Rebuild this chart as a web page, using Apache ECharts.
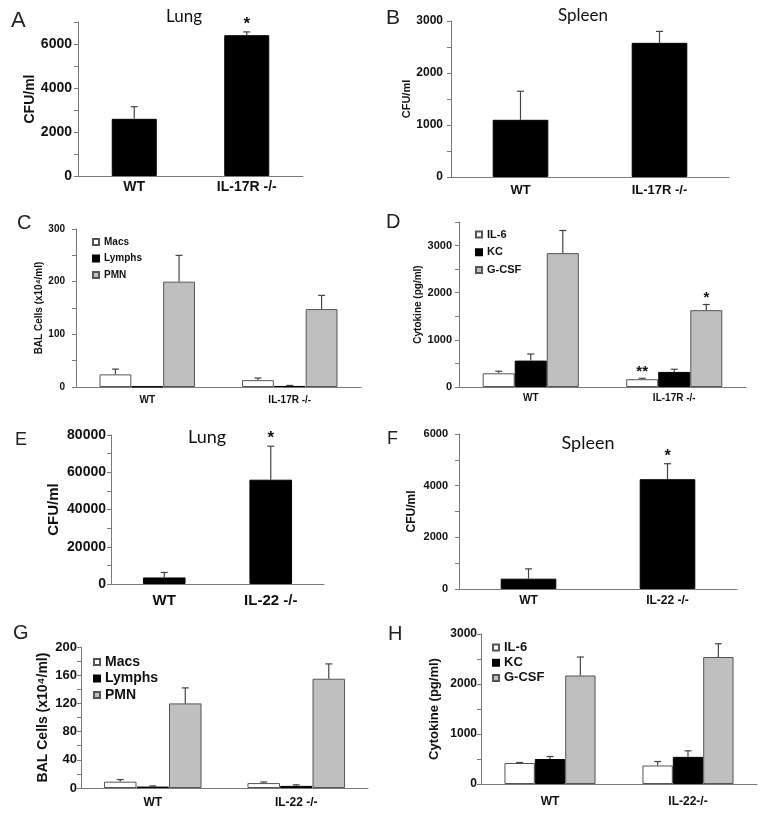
<!DOCTYPE html>
<html><head><meta charset="utf-8">
<script src="https://cdn.jsdelivr.net/npm/echarts@6/dist/echarts.min.js"></script>
<style>html,body{margin:0;padding:0;background:#fff}#c{width:764px;height:816px}</style>
</head><body><div id="c"></div><script>
// ---------- DATA ----------
const catsIL17 = ['WT', 'IL-17R -/-'];
const catsIL22 = ['WT', 'IL-22 -/-'];
const catsIL22h = ['WT', 'IL-22-/-'];

// A: Lung CFU (IL-17R)
const lungA = [2600, 6400];
const lungAErr = [550, 150];
const lungASig = ['', '*'];
// B: Spleen CFU (IL-17R)
const spleenB = [1100, 2580];
const spleenBErr = [550, 220];
const spleenBSig = ['', ''];
// C: BAL cells (IL-17R)
const macsC = [24, 13];
const macsCErr = [10, 4];
const lymphsC = [1, 2];
const lymphsCErr = [0, 1];
const pmnC = [200, 148];
const pmnCErr = [50, 26];
// D: Cytokines (IL-17R)
const il6D = [290, 165];
const il6DErr = [45, 20];
const il6DSig = ['', '**'];
const kcD = [560, 320];
const kcDErr = [140, 57];
const gcsfD = [2840, 1630];
const gcsfDErr = [480, 120];
const gcsfDSig = ['', '*'];
// E: Lung CFU (IL-22)
const lungE = [3500, 56000];
const lungEErr = [2700, 18000];
const lungESig = ['', '*'];
// F: Spleen CFU (IL-22)
const spleenF = [400, 4250];
const spleenFErr = [380, 600];
const spleenFSig = ['', '*'];
// G: BAL cells (IL-22)
const macsG = [9, 7];
const macsGErr = [3, 1.5];
const lymphsG = [2, 3];
const lymphsGErr = [1, 1.5];
const pmnG = [120, 155];
const pmnGErr = [22, 21];
// H: Cytokines (IL-22)
const il6H = [420, 370];
const il6HErr = [10, 80];
const kcH = [500, 543];
const kcHErr = [50, 120];
const gcsfH = [2170, 2540];
const gcsfHErr = [370, 265];

// ---------- STYLE ----------
const WHITE = {color: '#ffffff', borderColor: '#555', borderWidth: 1};
const BLACK = {color: '#000000', borderColor: '#000', borderWidth: 1};
const GRAY = {color: '#bfbfbf', borderColor: '#555', borderWidth: 1};
const AX = '#7a7a7a';

const chart = echarts.init(document.getElementById('c'));
const option = {
  animation: false,
  backgroundColor: '#fff',
  grid: [], xAxis: [], yAxis: [], series: [], legend: [], graphic: []
};

function panel(p) {
  const i = option.grid.length;
  option.grid.push(Object.assign({containLabel: false}, p.grid));
  option.xAxis.push({
    type: 'category', gridIndex: i, data: p.cats,
    axisLine: {lineStyle: {color: AX, width: 1}},
    axisTick: {length: 5, lineStyle: {color: AX}},
    axisLabel: {fontFamily: 'Liberation Sans, Arial', fontWeight: 'bold', fontSize: p.xFont, color: '#111', margin: p.xMargin}
  });
  option.yAxis.push({
    type: 'value', gridIndex: i, min: 0, max: p.max, interval: p.interval,
    name: p.yName, nameLocation: 'middle', nameRotate: 90, nameGap: p.nameGap,
    nameTextStyle: {fontFamily: 'Liberation Sans, Arial', fontWeight: 'bold', fontSize: p.nameFont, color: '#111'},
    splitLine: {show: false},
    axisLine: {show: true, lineStyle: {color: AX, width: 1}},
    axisTick: {show: true, length: 4, lineStyle: {color: AX}},
    axisLabel: {fontFamily: 'Liberation Sans, Arial', fontWeight: 'bold', fontSize: p.yFont, color: '#111', margin: p.yMargin,
      formatter: v => (v % p.step === 0 ? String(v) : '')}
  });
  const n = p.series.length;
  const frac = p.frac;
  p.series.forEach((s, idx) => {
    option.series.push({
      type: 'bar', name: s.name, xAxisIndex: i, yAxisIndex: i, data: s.data,
      barGap: '0%', barCategoryGap: ((1 - frac) * 100) + '%',
      itemStyle: s.style, z: 2
    });
    const sig = s.sig || [];
    option.series.push({
      type: 'custom', name: 'err' + i + '_' + idx, xAxisIndex: i, yAxisIndex: i, z: 3,
      silent: true, clip: false,
      data: s.data.map((v, k) => [k, v, s.err[k]]),
      renderItem: function (params, api) {
        const k = api.value(0), v = api.value(1), e = api.value(2);
        const p0 = api.coord([k, v]);
        const p1 = api.coord([k, v + e]);
        const band = api.size([1, 0])[0];
        const bw = band * frac / n;
        const x = p0[0] + (idx - (n - 1) / 2) * bw;
        const children = [];
        if (e > 0) {
          children.push({type: 'line', shape: {x1: x, y1: p0[1], x2: x, y2: p1[1]}, style: {stroke: '#444', lineWidth: 1.2}});
          children.push({type: 'line', shape: {x1: x - 3.5, y1: p1[1], x2: x + 3.5, y2: p1[1]}, style: {stroke: '#444', lineWidth: 1.2}});
        }
        const t = sig[params.dataIndex];
        if (t) {
          children.push({type: 'text', style: {text: t, x: x, y: p1[1] + 1, align: 'center', verticalAlign: 'bottom',
            font: 'bold ' + p.sigFont + 'px Liberation Sans, Arial', fill: '#111'}});
        }
        return {type: 'group', children: children};
      }
    });
  });
  if (p.legend) {
    option.legend.push(Object.assign({
      orient: 'vertical', icon: 'rect', itemWidth: 6, itemHeight: 6,
      data: p.series.map(s => s.name), selectedMode: false,
      textStyle: {fontFamily: 'Liberation Sans, Arial', fontWeight: 'bold', fontSize: p.legendFont, color: '#111'}
    }, p.legend));
  }
  option.graphic.push({type: 'text', left: p.letter.x, top: p.letter.y,
    style: {text: p.letter.t, font: p.letter.size + 'px Liberation Sans, Arial', fill: '#222'}});
  if (p.title) {
    option.graphic.push({type: 'text', x: p.title.x, y: p.title.y,
      style: {text: p.title.t, font: p.title.size + 'px Lato, Open Sans', fill: '#111', align: 'center', verticalAlign: 'middle'}});
  }
}

panel({grid: {left: 78, top: 22, width: 225, height: 154}, cats: catsIL17, max: 7000, interval: 1000, step: 2000,
  yName: 'CFU/ml', nameFont: 14, nameGap: 38, yFont: 14, yMargin: 6, xFont: 14, xMargin: 4, frac: 0.4, sigFont: 17,
  series: [{name: 'A', data: lungA, err: lungAErr, sig: lungASig, style: BLACK}],
  letter: {t: 'A', x: 11, y: 10, size: 22}, title: {t: 'Lung', x: 184, y: 17, size: 17}});

panel({grid: {left: 451, top: 21, width: 278, height: 156}, cats: catsIL17, max: 3000, interval: 500, step: 1000,
  yName: 'CFU/ml', nameFont: 11, nameGap: 37, yFont: 12, yMargin: 8, xFont: 13, xMargin: 7, frac: 0.4, sigFont: 16,
  series: [{name: 'B', data: spleenB, err: spleenBErr, sig: spleenBSig, style: BLACK}],
  letter: {t: 'B', x: 386, y: 8, size: 21}, title: {t: 'Spleen', x: 583, y: 16, size: 17}});

panel({grid: {left: 76, top: 229, width: 285, height: 158}, cats: catsIL17, max: 300, interval: 50, step: 100,
  yName: 'BAL Cells (x10\u2074/ml)', nameFont: 10, nameGap: 32, yFont: 10, yMargin: 11, xFont: 10, xMargin: 8, frac: 0.67, sigFont: 15,
  series: [{name: 'Macs', data: macsC, err: macsCErr, style: WHITE},
           {name: 'Lymphs', data: lymphsC, err: lymphsCErr, style: BLACK},
           {name: 'PMN', data: pmnC, err: pmnCErr, style: GRAY}],
  legend: {left: 87, top: 232, itemGap: 6.5}, legendFont: 10,
  letter: {t: 'C', x: 17, y: 213, size: 20}});

panel({grid: {left: 459, top: 222, width: 287, height: 165}, cats: catsIL17, max: 3500, interval: 500, step: 1000,
  yName: 'Cytokine (pg/ml)', nameFont: 10, nameGap: 31, yFont: 11, yMargin: 7, xFont: 10, xMargin: 6, frac: 0.67, sigFont: 15,
  series: [{name: 'IL-6', data: il6D, err: il6DErr, sig: il6DSig, style: WHITE},
           {name: 'KC', data: kcD, err: kcDErr, style: BLACK},
           {name: 'G-CSF', data: gcsfD, err: gcsfDErr, sig: gcsfDSig, style: GRAY}],
  legend: {left: 470, top: 224, itemGap: 6.8}, legendFont: 11,
  letter: {t: 'D', x: 386, y: 212, size: 20}});

panel({grid: {left: 111, top: 435, width: 213, height: 149}, cats: catsIL22, max: 80000, interval: 10000, step: 20000,
  yName: 'CFU/ml', nameFont: 15, nameGap: 50, yFont: 14, yMargin: 5, xFont: 15, xMargin: 9, frac: 0.4, sigFont: 17,
  series: [{name: 'E', data: lungE, err: lungEErr, sig: lungESig, style: BLACK}],
  letter: {t: 'E', x: 15, y: 431, size: 18}, title: {t: 'Lung', x: 207, y: 437, size: 18}});

panel({grid: {left: 459, top: 434, width: 278, height: 155}, cats: catsIL22, max: 6000, interval: 1000, step: 2000,
  yName: 'CFU/ml', nameFont: 12, nameGap: 41, yFont: 11, yMargin: 11, xFont: 12, xMargin: 6, frac: 0.4, sigFont: 16,
  series: [{name: 'F', data: spleenF, err: spleenFErr, sig: spleenFSig, style: BLACK}],
  letter: {t: 'F', x: 387, y: 430, size: 18}, title: {t: 'Spleen', x: 588, y: 443, size: 18}});

panel({grid: {left: 81, top: 647, width: 287, height: 141}, cats: catsIL22, max: 200, interval: 20, step: 40,
  yName: 'BAL Cells (x10\u2074/ml)', nameFont: 14, nameGap: 31, yFont: 13, yMargin: 4, xFont: 12, xMargin: 9, frac: 0.68, sigFont: 15,
  series: [{name: 'Macs', data: macsG, err: macsGErr, style: WHITE},
           {name: 'Lymphs', data: lymphsG, err: lymphsGErr, style: BLACK},
           {name: 'PMN', data: pmnG, err: pmnGErr, style: GRAY}],
  legend: {left: 88, top: 650, itemGap: 2.5}, legendFont: 14,
  letter: {t: 'G', x: 13, y: 623, size: 20}});

panel({grid: {left: 481, top: 634, width: 276, height: 150}, cats: catsIL22h, max: 3000, interval: 500, step: 1000,
  yName: 'Cytokine (pg/ml)', nameFont: 13, nameGap: 40, yFont: 12, yMargin: 4, xFont: 12, xMargin: 12, frac: 0.66, sigFont: 15,
  series: [{name: 'IL-6', data: il6H, err: il6HErr, style: WHITE},
           {name: 'KC', data: kcH, err: kcHErr, style: BLACK},
           {name: 'G-CSF', data: gcsfH, err: gcsfHErr, style: GRAY}],
  legend: {left: 487, top: 636, itemGap: 2.2}, legendFont: 13,
  letter: {t: 'H', x: 388, y: 624, size: 20}});

chart.setOption(option);
</script></body></html>
